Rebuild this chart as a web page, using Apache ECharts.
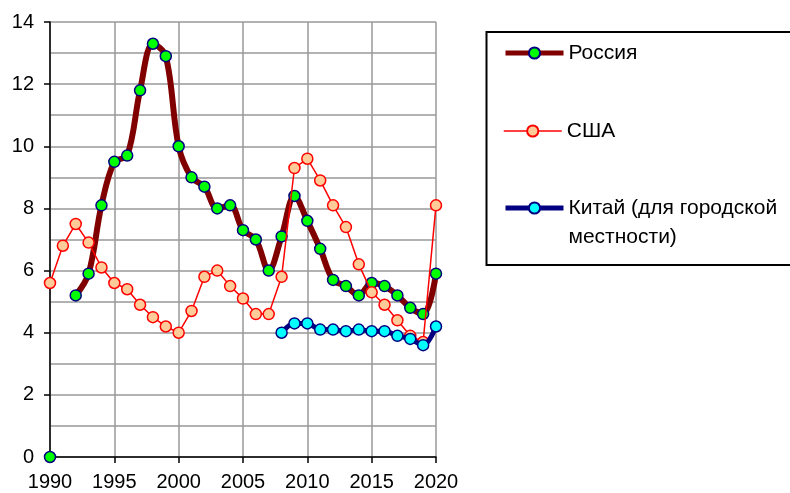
<!DOCTYPE html>
<html>
<head>
<meta charset="utf-8">
<script src="https://cdn.jsdelivr.net/npm/echarts@6/dist/echarts.min.js"></script>
<style>
  html, body { margin: 0; padding: 0; background: #fff; }
  #chart { width: 790px; height: 493px; }
</style>
</head>
<body>
<div id="chart"></div>
<script>
// Unemployment rate, %, by year
const years = [1990, 1991, 1992, 1993, 1994, 1995, 1996, 1997, 1998, 1999,
               2000, 2001, 2002, 2003, 2004, 2005, 2006, 2007, 2008, 2009,
               2010, 2011, 2012, 2013, 2014, 2015, 2016, 2017, 2018, 2019, 2020];
const russia = [0, null, 5.2, 5.9, 8.1, 9.5, 9.7, 11.8, 13.3, 12.9,
                10.0, 9.0, 8.7, 8.0, 8.1, 7.3, 7.0, 6.0, 7.1, 8.4,
                7.6, 6.7, 5.7, 5.5, 5.2, 5.6, 5.5, 5.2, 4.8, 4.6, 5.9];
const usa = [5.6, 6.8, 7.5, 6.9, 6.1, 5.6, 5.4, 4.9, 4.5, 4.2,
             4.0, 4.7, 5.8, 6.0, 5.5, 5.1, 4.6, 4.6, 5.8, 9.3,
             9.6, 8.9, 8.1, 7.4, 6.2, 5.3, 4.9, 4.4, 3.9, 3.7, 8.1];
const chinaYears = [2008, 2009, 2010, 2011, 2012, 2013, 2014, 2015, 2016, 2017, 2018, 2019, 2020];
const china = [4.0, 4.3, 4.3, 4.1, 4.1, 4.05, 4.1, 4.05, 4.05, 3.9, 3.8, 3.6, 4.2];
const xTicks = [1990, 1995, 2000, 2005, 2010, 2015, 2020];
const yTicks = [0, 2, 4, 6, 8, 10, 12, 14];

const names = ['Россия', 'США', 'Китай (для городской\nместности)'];

const pairs = (xs, ys) => xs.map((x, i) => [x, ys[i]]);

const FONT = '"Liberation Sans", Arial, sans-serif';
const chart = echarts.init(document.getElementById('chart'), null, { renderer: 'canvas' });

const legendBase = {
  orient: 'vertical',
  left: 503,
  itemWidth: 58,
  itemHeight: 14,
  padding: 0,
  selectedMode: false,
  textStyle: { fontFamily: FONT, fontSize: 21, color: '#000', lineHeight: 24 }
};

chart.setOption({
  animation: false,
  backgroundColor: '#fff',
  grid: { left: 50, right: 354, top: 22, bottom: 36, containLabel: false },
  xAxis: {
    type: 'value',
    min: xTicks[0],
    max: xTicks[xTicks.length - 1],
    interval: 5,
    axisLine: { show: true, onZero: false, lineStyle: { color: '#000', width: 1.5 } },
    axisTick: { show: true, inside: false, length: 6, lineStyle: { color: '#000', width: 1.5 } },
    axisLabel: { fontFamily: FONT, fontSize: 20, color: '#000', margin: 15, formatter: v => String(v) },
    splitLine: { show: true, lineStyle: { color: '#999', width: 1.5 } }
  },
  yAxis: {
    type: 'value',
    min: yTicks[0],
    max: yTicks[yTicks.length - 1],
    interval: 2,
    axisLine: { show: true, lineStyle: { color: '#000', width: 1.5 } },
    axisTick: { show: true, length: 6, lineStyle: { color: '#000', width: 1.5 } },
    axisLabel: { fontFamily: FONT, fontSize: 20, color: '#000', margin: 16 },
    splitLine: { show: true, lineStyle: { color: '#999', width: 1.5 } },
    minorTick: { show: false, splitNumber: 2 },
    minorSplitLine: { show: true, lineStyle: { color: '#999', width: 1.5 } }
  },
  graphic: [{
    type: 'rect',
    shape: { x: 486.5, y: 32, width: 320, height: 233 },
    style: { fill: 'none', stroke: '#000', lineWidth: 2 },
    z: 0
  }],
  legend: [
    Object.assign({}, legendBase, { top: 41, data: [names[0]], lineStyle: { width: 5 } }),
    Object.assign({}, legendBase, { top: 119, data: [names[1]], lineStyle: { width: 1.5 } }),
    Object.assign({}, legendBase, {
      top: 164.5, data: [names[2]], lineStyle: { width: 5 },
      // blank leading line keeps the icon level with the first text line
      formatter: name => '\n' + name,
      textStyle: { fontFamily: FONT, fontSize: 21, color: '#000', lineHeight: 29 }
    })
  ],
  series: [
    {
      name: names[0],
      type: 'line',
      data: pairs(years, russia),
      smooth: 0.35,
      connectNulls: false,
      symbol: 'circle',
      symbolSize: 11,
      showSymbol: true,
      lineStyle: { color: '#800000', width: 6 },
      itemStyle: { color: '#00ff00', borderColor: '#000080', borderWidth: 1.5 },
      z: 2
    },
    {
      name: names[1],
      type: 'line',
      data: pairs(years, usa),
      smooth: false,
      symbol: 'circle',
      symbolSize: 11,
      lineStyle: { color: '#ff0000', width: 1.5 },
      itemStyle: { color: '#ffcc99', borderColor: '#ff0000', borderWidth: 1.5 },
      z: 3
    },
    {
      name: names[2],
      type: 'line',
      data: pairs(chinaYears, china),
      smooth: 0.35,
      symbol: 'circle',
      symbolSize: 11,
      lineStyle: { color: '#000080', width: 5 },
      itemStyle: { color: '#00ffff', borderColor: '#000080', borderWidth: 1.5 },
      z: 4
    }
  ]
});
</script>
</body>
</html>
